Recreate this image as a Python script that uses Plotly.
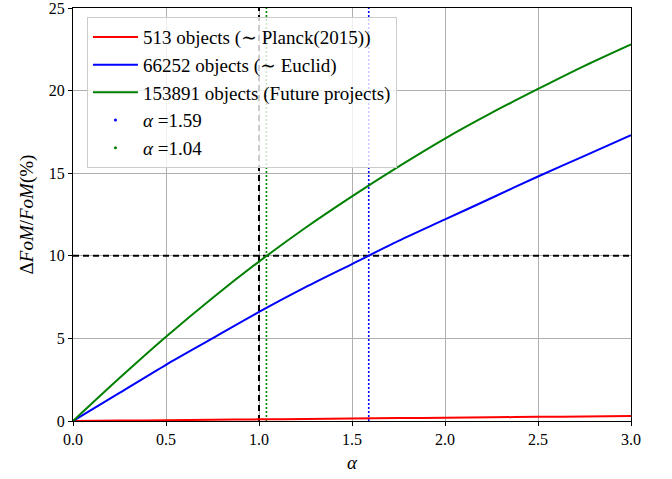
import plotly.graph_objects as go

alpha = [0.0, 0.25, 0.5, 0.75, 1.0, 1.25, 1.5, 1.75, 2.0, 2.25, 2.5, 2.75, 3.0]
planck = [0.0, 0.025, 0.05, 0.075, 0.1, 0.125, 0.15, 0.175, 0.2, 0.225, 0.25, 0.275, 0.3]
euclid = [0.0, 1.7, 3.4, 5.0, 6.6, 8.1, 9.5, 10.9, 12.2, 13.5, 14.8, 16.05, 17.3]
future = [0.0, 2.6, 5.1, 7.45, 9.65, 11.7, 13.6, 15.4, 17.1, 18.65, 20.1, 21.5, 22.8]
names = ["513 objects (∼ Planck(2015))", "66252 objects (∼ Euclid)", "153891 objects (Future projects)"]
colors = ["#ff0000", "#0000ff", "#008000"]
alpha_marks = [1.59, 1.04]
alpha_colors = ["#0000ff", "#008000"]
ref_alpha = 1.0
ref_level = 10.0
xticks = [0.0, 0.5, 1.0, 1.5, 2.0, 2.5, 3.0]
yticks = [0, 5, 10, 15, 20, 25]

FONT = "Times New Roman, Liberation Serif, DejaVu Serif, serif"
fig = go.Figure()

fig.add_trace(go.Scatter(x=[ref_alpha, ref_alpha], y=[0, 25], mode="lines",
                         line=dict(color="black", width=2, dash="6px,4px"), showlegend=False))
fig.add_trace(go.Scatter(x=[0, 3], y=[ref_level, ref_level], mode="lines",
                         line=dict(color="black", width=2, dash="6px,4px"), showlegend=False))
for a, c in zip(alpha_marks, alpha_colors):
    fig.add_trace(go.Scatter(x=[a, a], y=[0, 25], mode="lines",
                             line=dict(color=c, width=1.6, dash="2px,2px"), showlegend=False))

for ys, n, c in zip([planck, euclid, future], names, colors):
    fig.add_trace(go.Scatter(x=alpha, y=ys, mode="lines", name=n,
                             line=dict(color=c, width=2, shape="spline", smoothing=0.8)))

for a, c in zip(alpha_marks, alpha_colors):
    fig.add_trace(go.Scatter(x=[None], y=[None], mode="markers", name=f"<i>α</i> =%.2f" % a,
                             marker=dict(color=c, size=3)))

fig.update_layout(
    width=672, height=479,
    margin=dict(l=73, r=41, t=8, b=58, autoexpand=False),
    plot_bgcolor="white", paper_bgcolor="white",
    font=dict(family=FONT, size=16, color="black"),
    showlegend=True,
    legend=dict(x=0.025, y=0.978, xanchor="left", yanchor="top",
                bgcolor="rgba(255,255,255,0.8)", bordercolor="#cccccc", borderwidth=1,
                font=dict(family=FONT, size=19), itemwidth=45, tracegroupgap=0),
)
fig.update_xaxes(range=[0, 3], tickvals=xticks, ticktext=["%.1f" % t for t in xticks],
                 showgrid=True, gridcolor="#b0b0b0", gridwidth=1,
                 showline=True, linecolor="black", linewidth=1.2, mirror=True,
                 ticks="outside", ticklen=4, tickcolor="black", zeroline=False,
                 ticklabeloverflow="allow", automargin=False,
                 title=dict(text="<i>α</i>", standoff=8, font=dict(size=19)))
fig.update_yaxes(range=[0, 25], tickvals=yticks,
                 showgrid=True, gridcolor="#b0b0b0", gridwidth=1,
                 showline=True, linecolor="black", linewidth=1.2, mirror=True,
                 ticks="outside", ticklen=4, tickcolor="black", zeroline=False,
                 ticklabeloverflow="allow", automargin=False,
                 title=dict(text="Δ<i>FoM</i>/<i>FoM</i>(%)", standoff=10, font=dict(size=19)))

fig.write_html("out.html")
